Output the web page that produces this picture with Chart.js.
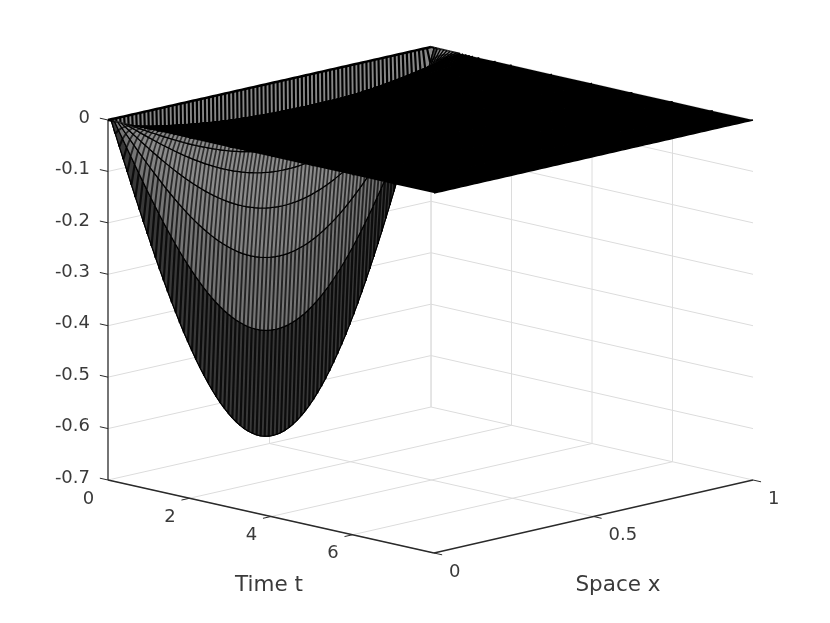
<!DOCTYPE html>
<html><head><meta charset="utf-8">
<style>html,body{margin:0;padding:0;background:#fff}canvas{display:block}</style>
<script src="https://cdn.jsdelivr.net/npm/chart.js@4/dist/chart.umd.js"></script>
</head><body><canvas id="c" width="830" height="623"></canvas>
<script>
const zTicks=[0,-0.1,-0.2,-0.3,-0.4,-0.5,-0.6,-0.7];
const tTicks=[0,2,4,6];
const xTicks=[0,0.5,1];
const tMax=8;
const spaceX=[0,.0125,.025,.0375,.05,.0625,.075,.0875,.1,.1125,.125,.1375,.15,.1625,.175,.1875,.2,.2125,.225,.2375,.25,.2625,.275,.2875,.3,.3125,.325,.3375,.35,.3625,.375,.3875,.4,.4125,.425,.4375,.45,.4625,.475,.4875,.5,.5125,.525,.5375,.55,.5625,.575,.5875,.6,.6125,.625,.6375,.65,.6625,.675,.6875,.7,.7125,.725,.7375,.75,.7625,.775,.7875,.8,.8125,.825,.8375,.85,.8625,.875,.8875,.9,.9125,.925,.9375,.95,.9625,.975,.9875,1];
const profile=[0,.0393,.0785,.1175,.1564,.1951,.2334,.2714,.309,.3461,.3827,.4187,.454,.4886,.5225,.5556,.5878,.6191,.6494,.6788,.7071,.7343,.7604,.7853,.809,.8315,.8526,.8725,.891,.9081,.9239,.9381,.9511,.9625,.9724,.9808,.9877,.9932,.9969,.9992,1,.9992,.9969,.9932,.9877,.9808,.9724,.9625,.9511,.9381,.9239,.9081,.891,.8725,.8526,.8315,.809,.7853,.7604,.7343,.7071,.6788,.6494,.6191,.5878,.5556,.5225,.4886,.454,.4187,.3827,.3461,.309,.2714,.2334,.1951,.1564,.1175,.0785,.0393,0];
const timeT=[0,.08,.16,.24,.32,.4,.48,.56,.64,.72,.8,.88,.96,1.04,1.2,1.6,2,3,4,5,6,7,8];
const midDepth=[0,.683,.475,.331,.232,.16,.115,.08,.055,.04,.035,.031,.028,.025,.018,.004,0,0,0,0,0,0,0];
const stripFill=['#888888','#383838','#767676','#848484','#8c8c8c','#8c8c8c','#8c8c8c','#707070','#505050'];
const stripLine=['#000000','#0c0c0c','#222222','#2a2a2a','#2e2e2e','#2e2e2e','#2e2e2e','#222222','#111111'];
const stripWidth=[2.2,2.2,1.9,1.8,1.7,1.7,1.7,1.7,1.7];

// view of the 3-D box: screen corners of the floor, at z=-0.7
const floorL=[108,480],floorF=[434,553],floorR=[753,480],floorB=[431,407];
const pxPerZ=360/0.7, zBottomPx=480;
function project(t,x,z){
  const a=t/tMax,b=x;
  const X=(1-a)*(1-b)*floorL[0]+a*(1-b)*floorF[0]+a*b*floorR[0]+(1-a)*b*floorB[0];
  const Y=(1-a)*(1-b)*floorL[1]+a*(1-b)*floorF[1]+a*b*floorR[1]+(1-a)*b*floorB[1];
  return {x:X,y:z+(zBottomPx-Y)/pxPerZ};
}
const gap={x:0,y:NaN};
const layers=[];
function line(points,color,width){layers.push({data:points,borderColor:color,borderWidth:width,showLine:true,pointRadius:0,fill:false,borderCapStyle:'butt',borderJoinStyle:'round'});}
function shape(points,color){layers.push({data:points,borderColor:color,backgroundColor:color,borderWidth:0,showLine:true,pointRadius:0,fill:'shape'});}

// grid
const gridC='#dcdcdc',zMin=-0.7;
for(const z of zTicks.slice(0,-1)){
  line([project(0,0,z),project(0,1,z)],gridC,1);
  line([project(0,1,z),project(tMax,1,z)],gridC,1);
}
for(const x of xTicks){
  line([project(0,x,zMin),project(tMax,x,zMin)],gridC,1);
  if(x>0) line([project(0,x,zMin),project(0,x,0)],gridC,1);
}
for(const t of tTicks){
  line([project(t,0,zMin),project(t,1,zMin)],gridC,1);
  line([project(t,1,zMin),project(t,1,0)],gridC,1);
}
// box axes
const axC='#2a2a2a';
line([project(0,0,zMin),project(0,0,0)],axC,1.3);
line([project(0,0,zMin),project(tMax,0,zMin)],axC,1.3);
line([project(tMax,0,zMin),project(tMax,1,zMin)],axC,1.3);
// tick marks
const tickFrac=0.025, tickT=0.2;
for(const z of zTicks) line([project(-tickT,0,z),project(0,0,z)],axC,1);
for(const t of tTicks.slice(1)) line([project(t,-tickFrac,zMin),project(t,0,zMin)],axC,1);
for(const x of xTicks) line([project(tMax,x,zMin),project(tMax+tickT,x,zMin)],axC,1);

// mesh, painted from the far edge (t=0) to the near edge
const surf=(i,k)=>project(timeT[i],spaceX[k],-midDepth[i]*profile[k]);
const curve=i=>spaceX.map((_,k)=>surf(i,k));
for(let i=0;i<timeT.length-1;i++){
  const back=curve(i),front=curve(i+1);
  const dark=i>=stripFill.length;
  shape(back.concat(front.slice().reverse()),dark?'#000':stripFill[i]);
  if(dark){line(back,'#000',1.5);line(front,'#000',1.5);continue;}
  const hatch=[];
  for(let k=0;k<spaceX.length;k++) hatch.push(back[k],front[k],gap);
  line(hatch,stripLine[i],stripWidth[i]);
  line(back,'#000',i===0?2.5:1.2);
  line(front,'#000',1.2);
}
const texts={
  id:'boxTexts',
  afterDraw(c){
    const ctx=c.ctx,sx=c.scales.x,sy=c.scales.y;
    const px=p=>[sx.getPixelForValue(p.x),sy.getPixelForValue(p.y)];
    ctx.save();ctx.fillStyle='#3a3a3a';ctx.textBaseline='middle';
    ctx.font='18px "DejaVu Sans"';ctx.textAlign='center';
    for(const t of tTicks){const [a,b]=px(project(t,0,zMin));ctx.fillText(String(t),a-19.5,b+19);}
    ctx.textAlign='left';
    for(const x of xTicks){const [a,b]=px(project(tMax,x,zMin));ctx.fillText(String(x),a+15,b+19);}
    ctx.font='21.5px "DejaVu Sans"';ctx.textAlign='center';
    ctx.fillText('Time t',269,585);
    ctx.fillText('Space x',618,585);
    ctx.restore();
  }
};
new Chart(document.getElementById('c'),{
  type:'scatter',
  data:{datasets:layers.slice().reverse()},
  plugins:[texts],
  options:{
    responsive:false,animation:false,events:[],
    layout:{padding:0},
    plugins:{legend:{display:false},tooltip:{enabled:false},title:{display:false}},
    elements:{line:{tension:0}},
    scales:{
      x:{type:'linear',min:0,max:830,display:false},
      y:{type:'linear',min:zMin-(623-zBottomPx)/pxPerZ,max:(zBottomPx+zMin*pxPerZ)/pxPerZ,
        position:{x:90},
        grid:{display:false},border:{display:false},
        afterBuildTicks(s){s.ticks=zTicks.map(v=>({value:v}));},
        afterFit(s){s.paddingTop=0;s.paddingBottom=0;},
        ticks:{autoSkip:false,padding:0,labelOffset:-2,color:'#3a3a3a',font:{family:'"DejaVu Sans"',size:18},
          callback:v=>v===0?'0':v.toFixed(1)}
      }
    }
  }
});
</script></body></html>
